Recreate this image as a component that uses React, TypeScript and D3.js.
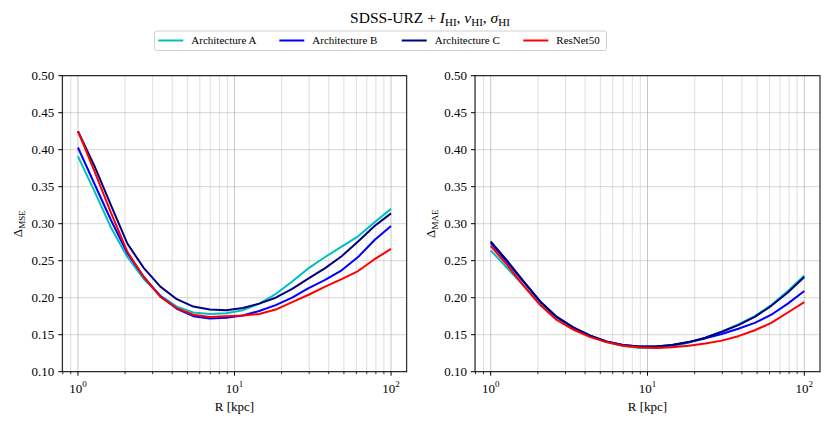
import React from "react";
import * as d3 from "d3";

const radii = [1, 1.274, 1.624, 2.069, 2.637, 3.360, 4.281, 5.456, 6.952, 8.859, 11.29, 14.38, 18.33, 23.36, 29.76, 37.93, 48.33, 61.58, 78.48, 100];

const seriesNames = ["Architecture A", "Architecture B", "Architecture C", "ResNet50"];
const seriesColors = ["#00bfbf", "#0000ff", "#000080", "#ff0000"];

const mseA = [0.391, 0.344, 0.295, 0.255, 0.225, 0.203, 0.188, 0.180, 0.178, 0.179, 0.183, 0.192, 0.205, 0.222, 0.240, 0.255, 0.269, 0.283, 0.302, 0.320];
const mseB = [0.403, 0.354, 0.305, 0.260, 0.228, 0.202, 0.185, 0.175, 0.172, 0.173, 0.176, 0.182, 0.190, 0.200, 0.213, 0.224, 0.237, 0.255, 0.278, 0.297];
const mseC = [0.425, 0.378, 0.325, 0.273, 0.240, 0.215, 0.198, 0.188, 0.184, 0.183, 0.186, 0.192, 0.200, 0.212, 0.226, 0.240, 0.256, 0.276, 0.297, 0.314];
const mseR = [0.425, 0.371, 0.315, 0.262, 0.228, 0.201, 0.186, 0.177, 0.174, 0.175, 0.176, 0.178, 0.184, 0.194, 0.204, 0.215, 0.225, 0.236, 0.252, 0.266];

const maeA = [0.264, 0.240, 0.216, 0.193, 0.173, 0.159, 0.148, 0.140, 0.135, 0.132, 0.132, 0.134, 0.139, 0.146, 0.154, 0.164, 0.175, 0.190, 0.209, 0.230];
const maeB = [0.274, 0.248, 0.221, 0.195, 0.174, 0.160, 0.149, 0.141, 0.136, 0.134, 0.134, 0.136, 0.140, 0.145, 0.151, 0.158, 0.166, 0.177, 0.192, 0.209];
const maeC = [0.276, 0.250, 0.222, 0.195, 0.174, 0.160, 0.149, 0.141, 0.136, 0.134, 0.134, 0.136, 0.140, 0.146, 0.154, 0.163, 0.174, 0.189, 0.207, 0.228];
const maeR = [0.270, 0.244, 0.216, 0.190, 0.170, 0.157, 0.147, 0.140, 0.135, 0.133, 0.132, 0.133, 0.135, 0.138, 0.142, 0.148, 0.156, 0.166, 0.180, 0.194];

const yTicks = [0.1, 0.15, 0.2, 0.25, 0.3, 0.35, 0.4, 0.45, 0.5];
const xMajor = [1, 10, 100];
const xExp = ["0", "1", "2"];

const FONT = "'Liberation Serif', 'Times New Roman', serif";

function Panel({ left, right, values, sub }: { left: number; right: number; values: number[][]; sub: string }) {
  const top = 75.7;
  const bottom = 371.7;
  const x = d3.scaleLog().domain([Math.pow(10, -0.1), Math.pow(10, 2.1)]).range([left, right]);
  const y = d3.scaleLinear().domain([0.1, 0.5]).range([bottom, top]);
  const minor: number[] = [];
  for (let e = -1; e <= 2; e++) {
    for (let m = 2; m <= 9; m++) {
      const v = m * Math.pow(10, e);
      if (v >= x.domain()[0] && v <= x.domain()[1]) minor.push(v);
    }
  }
  const line = d3.line<number>().x((_, i) => x(radii[i])).y((d) => y(d));
  const midX = (left + right) / 2;
  const midY = (top + bottom) / 2;
  return (
    <g>
      <defs>
        <clipPath id={"clip" + sub}>
          <rect x={left} y={top} width={right - left} height={bottom - top} />
        </clipPath>
      </defs>
      {yTicks.map((t) => (
        <line key={"yg" + t} x1={left} x2={right} y1={y(t)} y2={y(t)} stroke="#b0b0b0" strokeOpacity={0.5} strokeWidth={1} />
      ))}
      {minor.map((t) => (
        <line key={"xm" + t} x1={x(t)} x2={x(t)} y1={top} y2={bottom} stroke="#b0b0b0" strokeOpacity={0.5} strokeWidth={0.8} />
      ))}
      {xMajor.map((t) => (
        <line key={"xg" + t} x1={x(t)} x2={x(t)} y1={top} y2={bottom} stroke="#b0b0b0" strokeOpacity={0.7} strokeWidth={1} />
      ))}
      <g clipPath={`url(#clip${sub})`}>
        {values.map((vals, i) => (
          <path key={i} d={line(vals) || ""} fill="none" stroke={seriesColors[i]} strokeWidth={2} strokeLinejoin="round" />
        ))}
      </g>
      <rect x={left} y={top} width={right - left} height={bottom - top} fill="none" stroke="#000" strokeWidth={1} />
      {yTicks.map((t) => (
        <g key={"yt" + t}>
          <line x1={left - 4} x2={left} y1={y(t)} y2={y(t)} stroke="#000" strokeWidth={1} />
          <text x={left - 8} y={y(t)} dy="0.35em" textAnchor="end" fontSize={13} fontFamily={FONT} fill="#000">
            {t.toFixed(2)}
          </text>
        </g>
      ))}
      {minor.map((t) => (
        <line key={"xmt" + t} x1={x(t)} x2={x(t)} y1={bottom} y2={bottom + 2.5} stroke="#000" strokeWidth={0.8} />
      ))}
      {xMajor.map((t, i) => (
        <g key={"xt" + t}>
          <line x1={x(t)} x2={x(t)} y1={bottom} y2={bottom + 4} stroke="#000" strokeWidth={1} />
          <text x={x(t)} y={bottom + 21.5} textAnchor="middle" fontSize={13} fontFamily={FONT} fill="#000">
            10
            <tspan dy={-6} fontSize={9}>{xExp[i]}</tspan>
          </text>
        </g>
      ))}
      <text x={midX} y={bottom + 39} textAnchor="middle" fontSize={13} fontFamily={FONT} fill="#000">
        R [kpc]
      </text>
      <text transform={`translate(${left - 40.5},${midY}) rotate(-90)`} textAnchor="middle" fontSize={13} fontFamily={FONT} fill="#000">
        Δ
        <tspan dy={3} fontSize={9}>{sub}</tspan>
      </text>
    </g>
  );
}

export default function App() {
  const legendX = [158.3, 279.3, 401.7, 523.3];
  return (
    <svg width={830} height={425} style={{ position: "absolute", left: 0, top: 0, background: "#fff" }}>
      <rect x={0} y={0} width={830} height={425} fill="#fff" />
      <text x={430} y={23} textAnchor="middle" fontSize={15.5} fontFamily={FONT} fill="#000">
        SDSS-URZ +{" "}
        <tspan fontStyle="italic">I</tspan>
        <tspan dy={3} fontSize={11}>HI</tspan>
        <tspan dy={-3}>, </tspan>
        <tspan fontStyle="italic">v</tspan>
        <tspan dy={3} fontSize={11}>HI</tspan>
        <tspan dy={-3}>, </tspan>
        <tspan fontStyle="italic">σ</tspan>
        <tspan dy={3} fontSize={11}>HI</tspan>
      </text>
      <rect x={154.5} y={31} width={452} height={19.5} fill="#fff" stroke="#d0d0d0" strokeWidth={1} rx={2} />
      {seriesNames.map((n, i) => (
        <g key={n}>
          <line x1={legendX[i]} x2={legendX[i] + 25} y1={40.5} y2={40.5} stroke={seriesColors[i]} strokeWidth={2} />
          <text x={legendX[i] + 33} y={40.5} dy="0.35em" fontSize={11} fontFamily={FONT} fill="#000">
            {n}
          </text>
        </g>
      ))}
      <Panel left={62.3} right={406.7} values={[mseA, mseB, mseC, mseR]} sub="MSE" />
      <Panel left={475} right={820} values={[maeA, maeB, maeC, maeR]} sub="MAE" />
    </svg>
  );
}
